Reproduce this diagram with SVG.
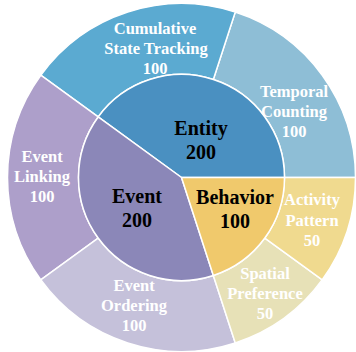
<svg xmlns="http://www.w3.org/2000/svg" width="356" height="352" viewBox="0 0 356 352">
<style>
.seg{stroke:#ffffff;stroke-width:1.5;stroke-linejoin:round}
.in{font-family:"Liberation Serif","Times New Roman",serif;font-weight:bold;font-size:20px;fill:#000000;text-anchor:middle}
.out{font-family:"Liberation Serif","Times New Roman",serif;font-weight:bold;font-size:16.5px;fill:#ffffff;text-anchor:middle}
</style>
<rect width="356" height="352" fill="#ffffff"/>
<g id="temporal-counting">
<path class="seg" fill="#8EBED6" d="M355.5,177.5 A174,174 0 0 0 235.27,12.02 L213.33,79.54 A103,103 0 0 1 284.5,177.5 Z"/>
<text class="out" x="294" y="97">Temporal</text>
<text class="out" x="294" y="117">Counting</text>
<text class="out" x="294" y="137">100</text>
</g>
<g id="cumulative-state-tracking">
<path class="seg" fill="#5BAAD1" d="M235.27,12.02 A174,174 0 0 0 40.73,75.22 L98.17,116.96 A103,103 0 0 1 213.33,79.54 Z"/>
<text class="out" x="155" y="34">Cumulative</text>
<text class="out" x="156" y="54">State Tracking</text>
<text class="out" x="155" y="74">100</text>
</g>
<g id="event-linking">
<path class="seg" fill="#AD9FCA" d="M40.73,75.22 A174,174 0 0 0 40.73,279.78 L98.17,238.04 A103,103 0 0 1 98.17,116.96 Z"/>
<text class="out" x="42" y="162">Event</text>
<text class="out" x="42" y="182">Linking</text>
<text class="out" x="42" y="202">100</text>
</g>
<g id="event-ordering">
<path class="seg" fill="#C5C1DA" d="M40.73,279.78 A174,174 0 0 0 235.27,342.98 L213.33,275.46 A103,103 0 0 1 98.17,238.04 Z"/>
<text class="out" x="134" y="291">Event</text>
<text class="out" x="134" y="311">Ordering</text>
<text class="out" x="134" y="331">100</text>
</g>
<g id="spatial-preference">
<path class="seg" fill="#E7E1B7" d="M235.27,342.98 A174,174 0 0 0 322.27,279.78 L264.83,238.04 A103,103 0 0 1 213.33,275.46 Z"/>
<text class="out" x="265" y="279">Spatial</text>
<text class="out" x="265" y="299">Preference</text>
<text class="out" x="265" y="319">50</text>
</g>
<g id="activity-pattern">
<path class="seg" fill="#F0DA8F" d="M322.27,279.78 A174,174 0 0 0 355.5,177.5 L284.5,177.5 A103,103 0 0 1 264.83,238.04 Z"/>
<text class="out" x="312" y="205">Activity</text>
<text class="out" x="312" y="226">Pattern</text>
<text class="out" x="312" y="246">50</text>
</g>
<g id="entity">
<path class="seg" fill="#4A90C1" d="M181.5,177.5 L284.5,177.5 A103,103 0 0 0 98.17,116.96 Z"/>
<text class="in" x="201" y="135">Entity</text>
<text class="in" x="201" y="159">200</text>
</g>
<g id="event">
<path class="seg" fill="#8B87B8" d="M181.5,177.5 L98.17,116.96 A103,103 0 0 0 213.33,275.46 Z"/>
<text class="in" x="137" y="203">Event</text>
<text class="in" x="137" y="227">200</text>
</g>
<g id="behavior">
<path class="seg" fill="#F0C96C" d="M181.5,177.5 L213.33,275.46 A103,103 0 0 0 284.5,177.5 Z"/>
<text class="in" x="235" y="204">Behavior</text>
<text class="in" x="235" y="228">100</text>
</g>
</svg>
